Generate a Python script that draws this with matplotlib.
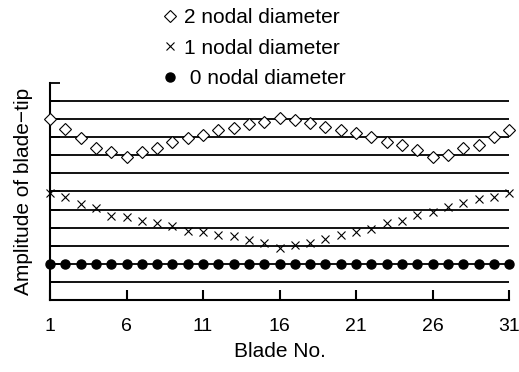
import matplotlib.pyplot as plt
import numpy as np

plt.rcParams['font.family'] = ['Liberation Sans', 'DejaVu Sans']

blades = np.arange(1, 32)

nd2 = [10.0, 9.44, 8.98, 8.43, 8.2, 7.93, 8.2, 8.39, 8.76, 8.94,
       9.13, 9.4, 9.53, 9.71, 9.86, 10.05, 9.96, 9.81, 9.59, 9.4,
       9.22, 9.0, 8.76, 8.57, 8.3, 7.93, 8.02, 8.39, 8.57, 9.0, 9.4]
nd1 = [5.93, 5.71, 5.31, 5.07, 4.65, 4.61, 4.39, 4.24, 4.11, 3.84,
       3.74, 3.6, 3.56, 3.32, 3.13, 2.89, 3.04, 3.13, 3.36, 3.6,
       3.78, 3.95, 4.28, 4.39, 4.70, 4.89, 5.16, 5.35, 5.57, 5.71, 5.93]
nd0 = [2.0] * 31

xticks = [1, 6, 11, 16, 21, 26, 31]

fig = plt.figure(figsize=(5.19, 3.72), dpi=100)
ax = fig.add_axes([0.0963, 0.1935, 0.8847, 0.5835])

for y in range(1, 12):
    ax.axhline(y, color='black', lw=1.3, zorder=1)

l2, = ax.plot(blades, nd2, 'D', ms=6.5, mfc='white', mec='black', mew=0.8,
              ls='none', clip_on=False, zorder=3, label='2 nodal diameter')
l1, = ax.plot(blades, nd1, 'x', ms=6, color='black', mew=0.8,
              ls='none', clip_on=False, zorder=3, label='1 nodal diameter')
l0, = ax.plot(blades, nd0, 'o', ms=6.5, color='black',
              ls='none', clip_on=False, zorder=3, label=' 0 nodal diameter')

ax.set_xlim(1, 31)
ax.set_ylim(0, 12)
ax.set_xticks(xticks)
ax.set_yticks(range(0, 13))
ax.set_yticklabels([])
ax.tick_params(axis='x', direction='in', length=7, width=1.5, labelsize=14, pad=13)
ax.tick_params(axis='y', direction='in', length=7, width=1.3)
ax.spines['top'].set_visible(False)
ax.spines['right'].set_visible(False)
ax.spines['left'].set_linewidth(1.5)
ax.spines['bottom'].set_linewidth(1.5)

ax.set_xlabel('Blade No.', fontsize=15, labelpad=5)
ax.set_ylabel('Amplitude of blade\u2212tip', fontsize=15, labelpad=9)

fig.legend(handles=[l2, l1, l0], loc='upper left', bbox_to_anchor=(0.3, 1.0),
           frameon=False, fontsize=15, handlelength=0.6, handletextpad=0.35,
           labelspacing=0.54, borderaxespad=0.0)

fig.savefig('out.png', dpi=100)
